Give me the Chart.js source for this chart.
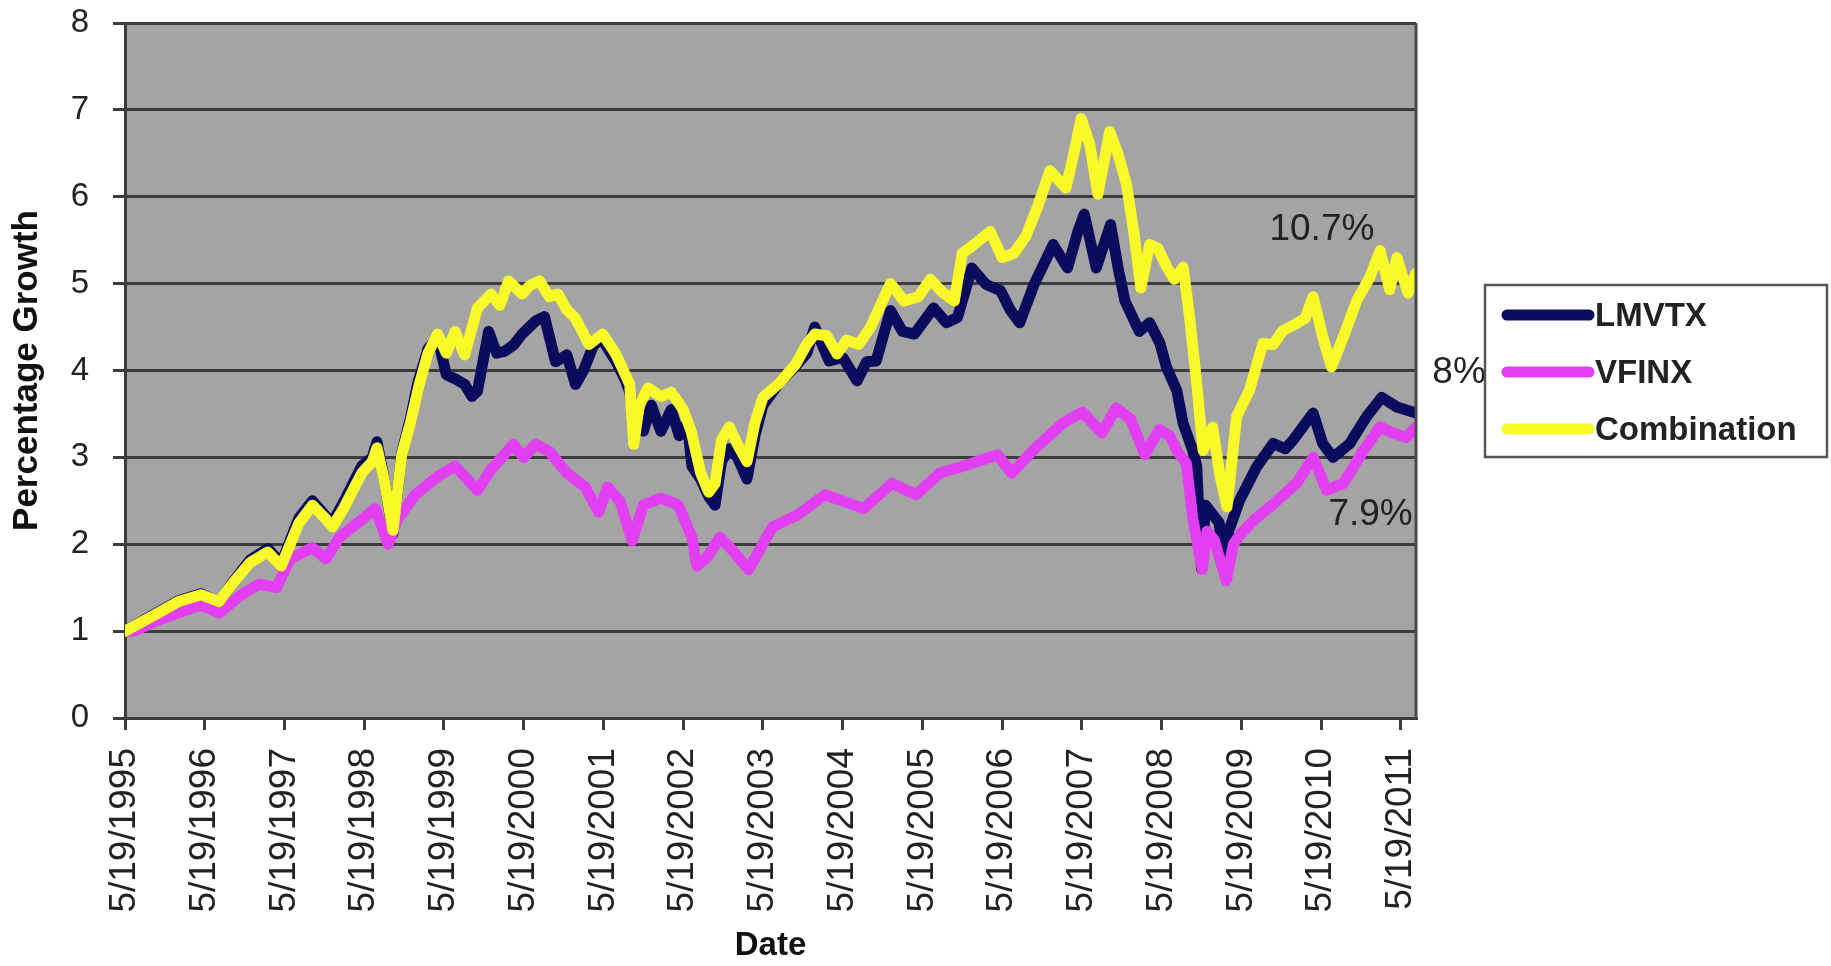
<!DOCTYPE html>
<html>
<head>
<meta charset="utf-8">
<title>Percentage Growth</title>
<script src="https://cdn.jsdelivr.net/npm/chart.js@4.4.0/dist/chart.umd.min.js"></script>
<style>
    html, body { margin: 0; padding: 0; background: #fff; }
    #wrap { width: 1831px; height: 966px; position: relative; }
</style>
</head>
<body>
<div id="wrap"><canvas id="growthChart"></canvas></div>
<script>
// x = years since 5/19/1995, y = growth of 1 unit
var lmvtxYears = [0, 0.34, 0.67, 0.95, 1.18, 1.34, 1.57, 1.79, 1.96, 2.18, 2.35, 2.52, 2.6, 2.74, 2.97, 3.1, 3.16, 3.25, 3.36, 3.47, 3.58, 3.67, 3.8, 3.92,
    4.03, 4.15, 4.26, 4.35, 4.42, 4.56, 4.66, 4.76, 4.88, 4.98, 5.15, 5.26, 5.4, 5.54, 5.65, 5.75, 5.88, 5.99, 6.16, 6.27, 6.33, 6.4, 6.5, 6.6, 6.72, 6.85, 6.95,
    7.05, 7.11, 7.22, 7.32, 7.4, 7.48, 7.58, 7.68, 7.8, 7.9, 8.0, 8.2, 8.41, 8.55, 8.65, 8.83, 9.0, 9.18, 9.3, 9.42, 9.6, 9.75, 9.9, 10.14, 10.3, 10.44,
    10.62, 10.8, 10.98, 11.1, 11.22, 11.4, 11.64, 11.82, 11.95, 12.03, 12.18, 12.36, 12.45, 12.54, 12.72, 12.85, 12.98, 13.06, 13.19, 13.27, 13.39, 13.44,
    13.5, 13.55, 13.6, 13.72, 13.81, 13.84, 13.98, 14.19, 14.4, 14.55, 14.65, 14.9, 15.02, 15.15, 15.36, 15.57, 15.76, 15.95, 16.19];
var lmvtxValues = [1.0, 1.18, 1.35, 1.43, 1.33, 1.55, 1.82, 1.95, 1.78, 2.3, 2.5, 2.32, 2.25, 2.48, 2.9, 3.0, 3.18, 2.75, 2.12, 3.05, 3.45, 3.85, 4.25, 4.38,
    3.95, 3.9, 3.84, 3.7, 3.76, 4.45, 4.2, 4.22, 4.3, 4.42, 4.57, 4.62, 4.1, 4.18, 3.84, 4.0, 4.3, 4.35, 4.1, 3.9, 3.75, 3.4, 3.3, 3.6, 3.3, 3.55, 3.25,
    3.4, 2.9, 2.75, 2.55, 2.45, 2.95, 3.1, 3.0, 2.75, 3.25, 3.6, 3.85, 4.05, 4.2, 4.5, 4.11, 4.15, 3.88, 4.1, 4.11, 4.69, 4.45, 4.42, 4.72, 4.55, 4.61,
    5.18, 4.99, 4.92, 4.7, 4.55, 4.99, 5.45, 5.18, 5.6, 5.8, 5.18, 5.68, 5.2, 4.8, 4.45, 4.55, 4.31, 4.04, 3.77, 3.39, 3.08, 2.9,
    1.72, 2.45, 2.39, 2.25, 1.6, 2.15, 2.51, 2.89, 3.16, 3.1, 3.2, 3.51, 3.16, 3.0, 3.16, 3.47, 3.69, 3.58, 3.51];

var vfinxYears = [0, 0.11, 0.4, 0.67, 0.95, 1.18, 1.46, 1.68, 1.9, 2.07, 2.35, 2.52, 2.69, 2.91, 3.14, 3.3, 3.42, 3.64, 3.92, 4.14, 4.42, 4.59, 4.87,
    5.0, 5.15, 5.32, 5.54, 5.77, 5.94, 6.05, 6.21, 6.36, 6.5, 6.72, 6.94, 7.11, 7.17, 7.3, 7.46, 7.6, 7.82, 8.12, 8.42, 8.78, 9.02, 9.26, 9.62, 9.92,
    10.22, 10.52, 10.94, 11.12, 11.42, 11.77, 12.01, 12.25, 12.43, 12.61, 12.79, 12.97, 13.1, 13.19, 13.31, 13.39, 13.51, 13.57, 13.66, 13.81, 13.9,
    13.99, 14.17, 14.41, 14.69, 14.9, 15.07, 15.28, 15.53, 15.74, 15.9, 16.07, 16.19];
var vfinxValues = [1.0, 1.0, 1.12, 1.21, 1.3, 1.21, 1.42, 1.54, 1.5, 1.83, 1.96, 1.83, 2.08, 2.24, 2.41, 2.0, 2.29, 2.57, 2.78, 2.9, 2.62, 2.86, 3.15,
    3.0, 3.15, 3.07, 2.82, 2.66, 2.37, 2.66, 2.49, 2.04, 2.45, 2.53, 2.45, 2.08, 1.75, 1.85, 2.08, 1.95, 1.71, 2.2, 2.33, 2.57, 2.49, 2.41, 2.7, 2.57,
    2.82, 2.9, 3.03, 2.82, 3.11, 3.4, 3.52, 3.28, 3.57, 3.44, 3.03, 3.32, 3.25, 3.08, 2.93, 2.3, 1.71, 2.15, 2.05, 1.58, 2.0,
    2.12, 2.29, 2.47, 2.7, 3.0, 2.62, 2.7, 3.08, 3.35, 3.28, 3.23, 3.35];

var comboYears = [0, 0.34, 0.67, 0.95, 1.18, 1.34, 1.57, 1.79, 1.96, 2.18, 2.35, 2.52, 2.6, 2.74, 2.97, 3.1, 3.16, 3.25, 3.36, 3.47, 3.58, 3.69, 3.8,
    3.92, 4.03, 4.14, 4.26, 4.42, 4.59, 4.7, 4.81, 4.98, 5.08, 5.2, 5.32, 5.43, 5.54, 5.65, 5.82, 5.99, 6.16, 6.25, 6.33, 6.38, 6.45, 6.56, 6.72, 6.85,
    7.0, 7.1, 7.22, 7.32, 7.4, 7.48, 7.58, 7.68, 7.8, 7.9, 8.0, 8.2, 8.41, 8.55, 8.65, 8.8, 8.93, 9.05, 9.2, 9.35, 9.6, 9.77, 9.95, 10.1, 10.25, 10.4,
    10.5, 10.65, 10.85, 11.0, 11.15, 11.3, 11.45, 11.6, 11.8, 11.9, 11.99, 12.1, 12.2, 12.35, 12.45, 12.56, 12.65, 12.74, 12.85, 12.95, 13.06, 13.16,
    13.27, 13.35, 13.44, 13.52, 13.64, 13.73, 13.82, 13.94, 14.1, 14.27, 14.4, 14.52, 14.69, 14.8, 14.9, 15.02, 15.13, 15.28, 15.45, 15.61, 15.74,
    15.86, 15.95, 16.09, 16.19];
var comboValues = [1.0, 1.17, 1.34, 1.42, 1.34, 1.54, 1.79, 1.91, 1.75, 2.24, 2.45, 2.29, 2.2, 2.41, 2.82, 2.95, 3.11, 2.74, 2.16, 3.03, 3.4, 3.84, 4.2,
    4.42, 4.2, 4.45, 4.18, 4.72, 4.88, 4.75, 5.03, 4.88, 4.98, 5.03, 4.85, 4.88, 4.7, 4.6, 4.3, 4.42, 4.18, 4.0, 3.84, 3.15, 3.6, 3.8, 3.7, 3.75,
    3.55, 3.3, 2.82, 2.6, 2.7, 3.2, 3.35, 3.15, 2.95, 3.4, 3.69, 3.85, 4.07, 4.3, 4.42, 4.4, 4.19, 4.35, 4.3, 4.5, 5.0, 4.8, 4.85, 5.05, 4.9, 4.8,
    5.35, 5.45, 5.6, 5.3, 5.35, 5.55, 5.9, 6.3, 6.1, 6.5, 6.9, 6.6, 6.03, 6.75, 6.5, 6.14, 5.6, 4.95, 5.45, 5.41, 5.2, 5.05,
    5.19, 4.62, 3.85, 3.08, 3.35, 2.8, 2.43, 3.47, 3.77, 4.31, 4.3, 4.46, 4.54, 4.6, 4.85, 4.39, 4.04, 4.39, 4.81, 5.07, 5.38,
    4.93, 5.3, 4.89, 5.12];

var seriesLabels = ['LMVTX', 'VFINX', 'Combination'];
var tickYears = [0, 1, 2, 3, 4, 5, 6, 7, 8, 9, 10, 11, 12, 13, 14, 15, 16];
var tickLabels = ['5/19/1995', '5/19/1996', '5/19/1997', '5/19/1998', '5/19/1999', '5/19/2000', '5/19/2001', '5/19/2002', '5/19/2003',
    '5/19/2004', '5/19/2005', '5/19/2006', '5/19/2007', '5/19/2008', '5/19/2009', '5/19/2010', '5/19/2011'];
var noteTexts = ['10.7%', '8%', '7.9%'];

function toPoints(xs, ys) {
    var pts = [];
    for (var i = 0; i < xs.length; i++) pts.push({ x: xs[i], y: ys[i] });
    return pts;
}

var FONT = '"Liberation Sans", Arial, sans-serif';

// grey plot background + right edge of the plot frame
var plotFramePlugin = {
    id: 'plotFrame',
    beforeDraw: function (chart) {
        var a = chart.chartArea, ctx = chart.ctx;
        ctx.save();
        ctx.fillStyle = '#ffffff';
        ctx.fillRect(0, 0, chart.width, chart.height);
        ctx.fillStyle = '#a4a4a4';
        ctx.fillRect(a.left, a.top, a.right - a.left, a.bottom - a.top);
        ctx.restore();
    },
    afterDraw: function (chart) {
        var a = chart.chartArea, ctx = chart.ctx;
        ctx.save();
        ctx.strokeStyle = '#4a4a4a';
        ctx.lineWidth = 3;
        ctx.beginPath();
        ctx.moveTo(a.right, a.top);
        ctx.lineTo(a.right, a.bottom);
        ctx.stroke();
        ctx.restore();
    }
};

// percentage notes placed in data units
var notesPlugin = {
    id: 'notes',
    afterDatasetsDraw: function (chart, args, opts) {
        var ctx = chart.ctx, xs = chart.scales.x, ys = chart.scales.y;
        ctx.save();
        ctx.font = '37px ' + FONT;
        ctx.fillStyle = '#222';
        ctx.textAlign = 'center';
        ctx.textBaseline = 'middle';
        for (var i = 0; i < noteTexts.length; i++) {
            ctx.fillText(noteTexts[i], xs.getPixelForValue(opts.at[i][0]), ys.getPixelForValue(opts.at[i][1]));
        }
        ctx.restore();
    }
};

// boxed legend to the right of the plot
var boxLegendPlugin = {
    id: 'boxLegend',
    afterDraw: function (chart, args, opts) {
        var ctx = chart.ctx;
        ctx.save();
        ctx.fillStyle = '#fff';
        ctx.fillRect(opts.left, opts.top, opts.width, opts.height);
        ctx.strokeStyle = '#555';
        ctx.lineWidth = 2.5;
        ctx.strokeRect(opts.left, opts.top, opts.width, opts.height);
        ctx.font = 'bold 33px ' + FONT;
        ctx.textAlign = 'left';
        ctx.textBaseline = 'middle';
        chart.data.datasets.forEach(function (ds, i) {
            var y = opts.top + 30 + i * 57;
            ctx.strokeStyle = ds.borderColor;
            ctx.lineWidth = 11;
            ctx.lineCap = 'round';
            ctx.beginPath();
            ctx.moveTo(opts.left + 22, y);
            ctx.lineTo(opts.left + 104, y);
            ctx.stroke();
            ctx.fillStyle = '#222';
            ctx.fillText(ds.label, opts.left + 110, y + 2);
        });
        ctx.restore();
    }
};

var growthController = {
    init: function () {
        var ctx = document.getElementById('growthChart');
        new Chart(ctx, {
            type: 'line',
            data: {
                datasets: [{
                    label: seriesLabels[0],
                    data: toPoints(lmvtxYears, lmvtxValues),
                    borderColor: '#0b0b5e',
                    order: 3
                }, {
                    label: seriesLabels[1],
                    data: toPoints(vfinxYears, vfinxValues),
                    borderColor: '#e23ff2',
                    order: 2
                }, {
                    label: seriesLabels[2],
                    data: toPoints(comboYears, comboValues),
                    borderColor: '#f9f92a',
                    order: 1
                }]
            },
            options: {
                responsive: true,
                maintainAspectRatio: false,
                animation: false,
                events: [],
                layout: { padding: { top: 23, right: 415, bottom: 0, left: 0 } },
                elements: {
                    line: { borderWidth: 11, tension: 0, borderJoinStyle: 'round', borderCapStyle: 'round', fill: false },
                    point: { radius: 0 }
                },
                plugins: {
                    legend: { display: false },
                    tooltip: { enabled: false },
                    notes: { at: [[15.01, 5.62], [16.73, 3.97], [15.62, 2.34]] },
                    boxLegend: { left: 1485, top: 285, width: 342, height: 172 }
                },
                scales: {
                    x: {
                        type: 'linear',
                        min: 0,
                        max: 16.19,
                        afterBuildTicks: function (axis) {
                            axis.ticks = tickYears.map(function (v) { return { value: v }; });
                        },
                        afterFit: function (scale) { scale.height = 248; },
                        grid: { drawOnChartArea: false, drawTicks: true, tickLength: 12, color: '#3c3c3c', lineWidth: 3 },
                        border: { color: '#3c3c3c', width: 3 },
                        ticks: {
                            autoSkip: false,
                            minRotation: 90,
                            maxRotation: 90,
                            padding: 18,
                            color: '#222',
                            font: { family: FONT, size: 37 },
                            callback: function (value, index) { return tickLabels[index]; }
                        },
                        title: {
                            display: true,
                            text: 'Date',
                            color: '#111',
                            font: { family: FONT, size: 33, weight: 'bold' },
                            padding: { top: 0, bottom: 0 }
                        }
                    },
                    y: {
                        min: 0,
                        max: 8,
                        afterFit: function (scale) {
                            scale.width = 125;
                            // tick padding would otherwise push the plot top down
                            scale.paddingTop = 0;
                            scale.paddingBottom = 0;
                        },
                        grid: { color: '#3c3c3c', lineWidth: 3, tickLength: 12 },
                        border: { color: '#3c3c3c', width: 3 },
                        ticks: {
                            stepSize: 1,
                            padding: 24,
                            color: '#222',
                            font: { family: FONT, size: 33 }
                        },
                        title: {
                            display: true,
                            text: 'Percentage Growth',
                            color: '#111',
                            font: { family: FONT, size: 35, weight: 'bold' },
                            padding: { top: 6, bottom: 0 }
                        }
                    }
                }
            },
            plugins: [plotFramePlugin, notesPlugin, boxLegendPlugin]
        });
    }
};

growthController.init();
</script>
</body>
</html>
